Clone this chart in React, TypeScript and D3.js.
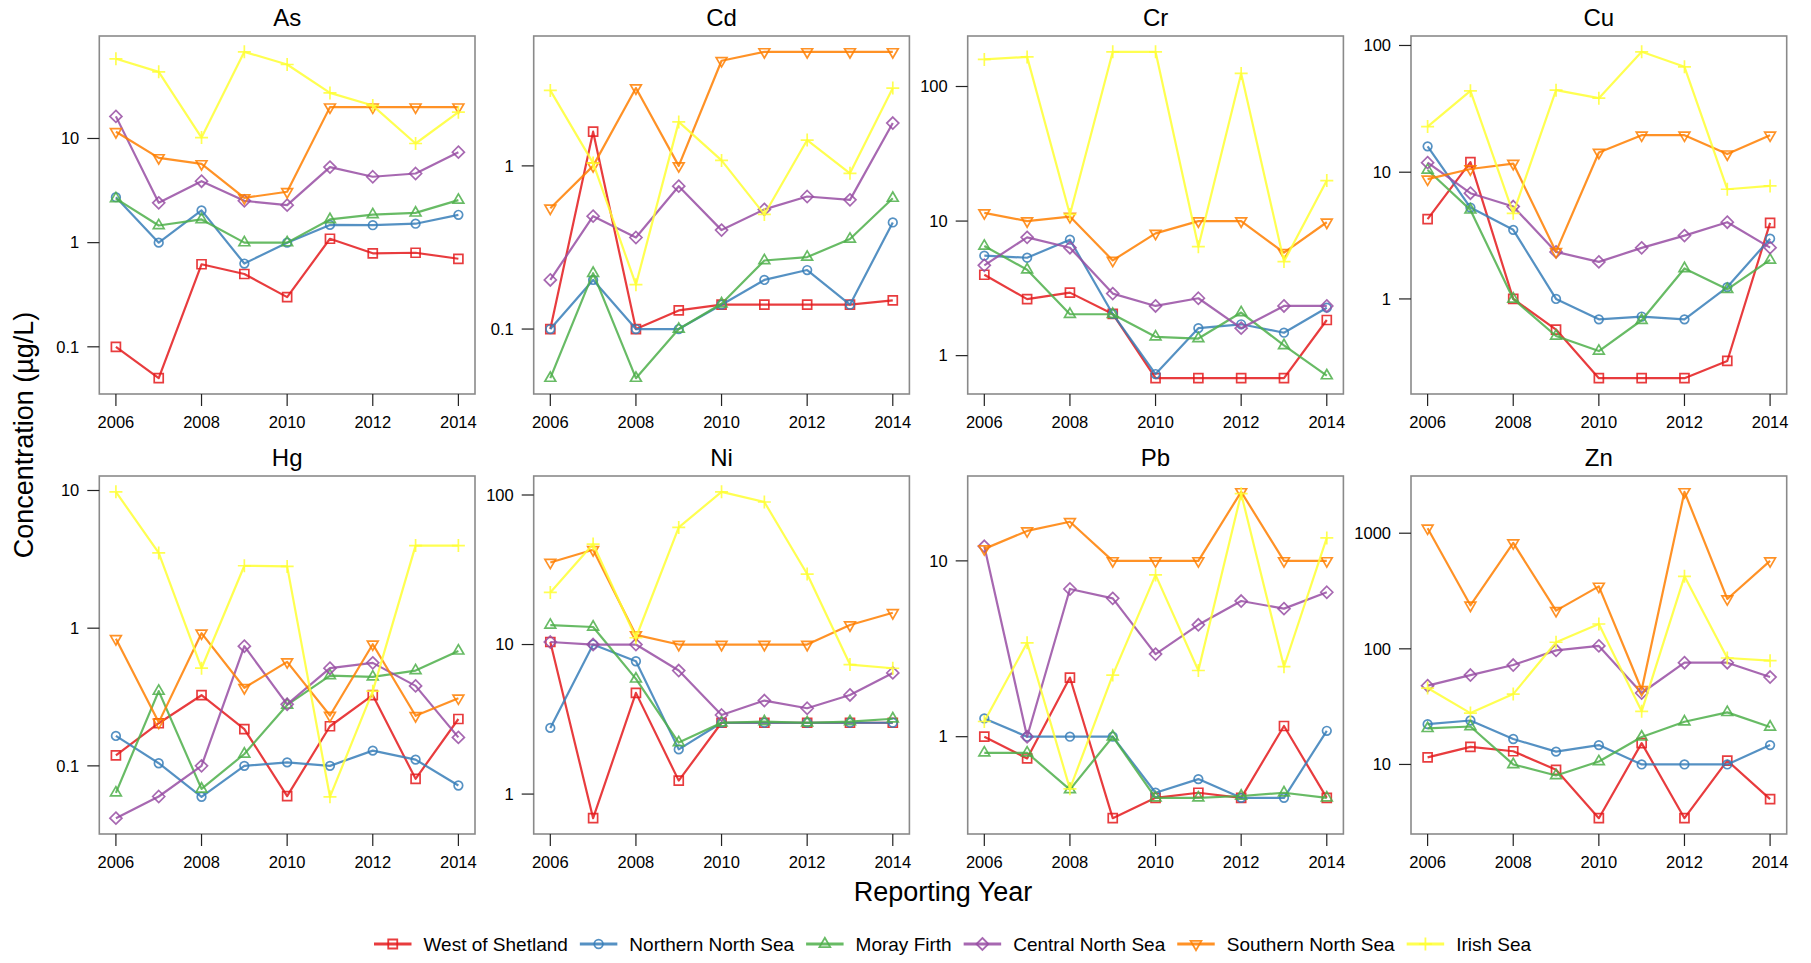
import React, { useMemo } from 'react';
import * as d3 from 'd3';

const years = [2006, 2007, 2008, 2009, 2010, 2011, 2012, 2013, 2014];
const xTickYears = [2006, 2008, 2010, 2012, 2014];
const regions = ['West of Shetland', 'Northern North Sea', 'Moray Firth', 'Central North Sea', 'Southern North Sea', 'Irish Sea'];
const regionColors = ['#E41A1C', '#377EB8', '#4DAF4A', '#984EA3', '#FF7F00', '#FFFF33'];
const regionShapes = ['square', 'circle', 'triangle', 'diamond', 'invtriangle', 'plus'];
const metals = ['As', 'Cd', 'Cr', 'Cu', 'Hg', 'Ni', 'Pb', 'Zn'];

// each array: one row per region (order as in `regions`), one value per year
const asValues = [
  [0.1, 0.05, 0.62, 0.5, 0.3, 1.09, 0.79, 0.8, 0.7],
  [2.73, 1.0, 2.04, 0.63, 1.0, 1.48, 1.47, 1.52, 1.85],
  [2.65, 1.46, 1.67, 1.0, 1.0, 1.67, 1.86, 1.93, 2.56],
  [16.3, 2.41, 3.89, 2.52, 2.29, 5.31, 4.29, 4.61, 7.39],
  [11.6, 6.52, 5.71, 2.69, 3.08, 20, 20, 20, 20],
  [58.2, 43.6, 10.2, 67.9, 51.3, 27.4, 20.7, 8.95, 17.9],
];
const cdValues = [
  [0.1, 1.62, 0.1, 0.13, 0.141, 0.141, 0.141, 0.141, 0.15],
  [0.1, 0.2, 0.1, 0.1, 0.141, 0.2, 0.23, 0.141, 0.45],
  [0.05, 0.22, 0.05, 0.1, 0.143, 0.263, 0.276, 0.356, 0.634],
  [0.2, 0.492, 0.364, 0.751, 0.404, 0.541, 0.649, 0.619, 1.83],
  [0.55, 1.0, 3.0, 1.0, 4.41, 5, 5, 5, 5],
  [2.9, 1.04, 0.187, 1.86, 1.08, 0.504, 1.44, 0.9, 3.0],
];
const crValues = [
  [3.99, 2.63, 2.94, 2.04, 0.68, 0.68, 0.68, 0.68, 1.84],
  [5.53, 5.34, 7.27, 2.04, 0.73, 1.6, 1.71, 1.48, 2.27],
  [6.52, 4.35, 2.03, 2.03, 1.38, 1.34, 2.09, 1.19, 0.71],
  [4.69, 7.57, 6.34, 2.89, 2.34, 2.67, 1.6, 2.34, 2.34],
  [11.5, 10, 10.8, 5.1, 8.1, 10, 10, 5.82, 9.8],
  [159, 166, 11.2, 181, 181, 6.45, 125, 5, 20],
];
const cuValues = [
  [4.26, 12.0, 1.0, 0.573, 0.237, 0.237, 0.237, 0.324, 3.98],
  [16.0, 5.26, 3.51, 1.0, 0.69, 0.726, 0.69, 1.24, 2.99],
  [10.4, 5.04, 1.0, 0.51, 0.388, 0.679, 1.74, 1.19, 2.03],
  [11.9, 6.83, 5.36, 2.35, 1.96, 2.53, 3.16, 4.03, 2.54],
  [8.81, 10.6, 11.7, 2.36, 14.3, 19.6, 19.6, 13.9, 19.6],
  [22.9, 43.9, 4.74, 44.4, 38.4, 89.1, 67.9, 7.34, 7.8],
];
const hgValues = [
  [0.119, 0.204, 0.326, 0.185, 0.0603, 0.194, 0.326, 0.0805, 0.219],
  [0.165, 0.1045, 0.0596, 0.1, 0.106, 0.1, 0.129, 0.111, 0.072],
  [0.0637, 0.349, 0.068, 0.122, 0.277, 0.453, 0.443, 0.492, 0.684],
  [0.0417, 0.0599, 0.1, 0.74, 0.28, 0.512, 0.56, 0.381, 0.161],
  [0.838, 0.207, 0.92, 0.369, 0.569, 0.232, 0.765, 0.231, 0.31],
  [9.78, 3.52, 0.512, 2.84, 2.81, 0.0596, 0.349, 3.98, 3.98],
];
const niValues = [
  [10.4, 0.69, 4.75, 1.23, 3, 3, 3, 3, 3],
  [2.77, 10, 7.73, 1.99, 3, 3, 3, 3, 3],
  [13.5, 13.1, 5.89, 2.21, 3, 3.05, 3, 3.05, 3.19],
  [10.4, 10, 10, 6.7, 3.38, 4.22, 3.75, 4.6, 6.46],
  [35.4, 43, 11.6, 10, 10, 10, 10, 13.5, 16.3],
  [22.3, 47, 11.1, 60.7, 105, 89.8, 29.6, 7.35, 6.94],
];
const pbValues = [
  [1.0, 0.752, 2.17, 0.344, 0.449, 0.48, 0.449, 1.15, 0.449],
  [1.27, 1.0, 1.0, 1.0, 0.48, 0.574, 0.449, 0.449, 1.08],
  [0.81, 0.81, 0.5, 1.0, 0.449, 0.449, 0.46, 0.48, 0.449],
  [12.1, 1.0, 6.92, 6.12, 2.95, 4.33, 5.91, 5.35, 6.63],
  [11.7, 14.8, 16.7, 10, 10, 10, 24.7, 10, 10],
  [1.22, 3.42, 0.505, 2.24, 8.32, 2.38, 24.1, 2.5, 13.5],
];
const znValues = [
  [11.5, 14.2, 13.0, 8.99, 3.43, 15.3, 3.43, 10.8, 5.01],
  [22.3, 24.0, 16.6, 12.9, 14.7, 10, 10, 10, 14.7],
  [20.5, 21.3, 10, 8.03, 10.6, 17.3, 23.4, 28.2, 21.1],
  [48, 59.3, 72.4, 97, 106, 41.5, 75.9, 75.9, 57],
  [1105, 238, 824, 214, 347, 44.3, 2280, 270, 576],
  [45.8, 27.8, 40.6, 114, 164, 28.8, 424, 83.3, 79],
];
const metalValues = [asValues, cdValues, crValues, cuValues, hgValues, niValues, pbValues, znValues];

// layout
const W = 1811;
const H = 963;
const colLefts = [99.3, 533.7, 967.7, 1411];
const rowTops = [36, 476];
const panelW = 375.7;
const panelH = 358;
const PAD = 0.0485;
const FONT = "'Liberation Sans', Arial, Helvetica, sans-serif";
const tickLen = 12;

function markerPath(shape: string): string {
  switch (shape) {
    case 'square':
      return 'M-4.5,-4.5H4.5V4.5H-4.5Z';
    case 'circle':
      return 'M4.3,0A4.3,4.3 0 1,1 -4.3,0A4.3,4.3 0 1,1 4.3,0Z';
    case 'triangle':
      return 'M0,-6.2L5.4,3.1L-5.4,3.1Z';
    case 'invtriangle':
      return 'M0,6.2L5.4,-3.1L-5.4,-3.1Z';
    case 'diamond':
      return 'M0,-6L6,0L0,6L-6,0Z';
    case 'plus':
    default:
      return 'M-6.5,0H6.5M0,-6.5V6.5';
  }
}

function fmtTick(v: number): string {
  return v >= 1 ? d3.format('d')(v) : String(+v.toPrecision(1));
}

function Panel({ metal, values, left, top }: { metal: string; values: number[][]; left: number; top: number }) {
  const all = values.flat();
  const lmin = Math.log10(d3.min(all) as number);
  const lmax = Math.log10(d3.max(all) as number);
  const lr = lmax - lmin;
  const y = d3.scaleLog().domain([10 ** (lmin - PAD * lr), 10 ** (lmax + PAD * lr)]).range([top + panelH, top]);
  const xr = years[years.length - 1] - years[0];
  const x = d3
    .scaleLinear()
    .domain([years[0] - PAD * xr, years[years.length - 1] + PAD * xr])
    .range([left, left + panelW]);
  const [d0, d1] = y.domain();
  const yTicks: number[] = [];
  for (let e = Math.ceil(Math.log10(d0) - 1e-9); e <= Math.floor(Math.log10(d1) + 1e-9); e++) yTicks.push(10 ** e);
  const line = d3
    .line<number>()
    .x((_, i) => x(years[i]))
    .y((v) => y(v));
  const bottom = top + panelH;
  return (
    <g>
      <text x={left + panelW / 2} y={top - 10} textAnchor="middle" fontSize={24} fontFamily={FONT} fill="#000">
        {metal}
      </text>
      {values.map((row, ri) => (
        <g key={ri} stroke={regionColors[ri]} strokeOpacity={0.85} fill="none">
          <path d={line(row) || ''} strokeWidth={2.2} strokeLinejoin="round" />
          {row.map((v, i) => (
            <path
              key={i}
              d={markerPath(regionShapes[ri])}
              transform={`translate(${x(years[i])},${y(v)})`}
              strokeWidth={1.7}
            />
          ))}
        </g>
      ))}
      <rect x={left} y={top} width={panelW} height={panelH} fill="none" stroke="#8a8a8a" strokeWidth={1.6} />
      {xTickYears.map((yr) => (
        <g key={yr}>
          <line x1={x(yr)} x2={x(yr)} y1={bottom} y2={bottom + tickLen} stroke="#222" strokeWidth={1.2} />
          <text x={x(yr)} y={bottom + 34} textAnchor="middle" fontSize={16.5} fontFamily={FONT} fill="#000">
            {yr}
          </text>
        </g>
      ))}
      {yTicks.map((t) => (
        <g key={t}>
          <line x1={left - tickLen} x2={left} y1={y(t)} y2={y(t)} stroke="#222" strokeWidth={1.2} />
          <text
            x={left - 20}
            y={y(t)}
            dy="0.35em"
            textAnchor="end"
            fontSize={16.5}
            fontFamily={FONT}
            fill="#000"
          >
            {fmtTick(t)}
          </text>
        </g>
      ))}
    </g>
  );
}

function measure(text: string, font: string): number {
  const c = document.createElement('canvas');
  const ctx = c.getContext('2d');
  if (!ctx) return text.length * 9;
  ctx.font = font;
  return ctx.measureText(text).width;
}

export default function App() {
  const legendFont = 19;
  const legendItems = useMemo(() => {
    let cx = 374;
    return regions.map((r, i) => {
      const lineX0 = cx;
      const lineX1 = cx + 37.5;
      const textX = lineX1 + 12;
      const tw = measure(r, `${legendFont}px 'Liberation Sans'`);
      cx = textX + tw + 12;
      return { r, i, lineX0, lineX1, textX };
    });
  }, []);
  const legendY = 944;

  return (
    <svg
      width={W}
      height={H}
      viewBox={`0 0 ${W} ${H}`}
      style={{ position: 'absolute', left: 0, top: 0, background: '#fff' }}
    >
      <rect x={0} y={0} width={W} height={H} fill="#fff" />
      {metals.map((m, k) => (
        <Panel
          key={m}
          metal={m}
          values={metalValues[k]}
          left={colLefts[k % 4]}
          top={rowTops[Math.floor(k / 4)]}
        />
      ))}
      <text
        transform={`translate(33,435) rotate(-90)`}
        textAnchor="middle"
        fontSize={27}
        fontFamily={FONT}
        fill="#000"
      >
        Concentration (µg/L)
      </text>
      <text x={943} y={901} textAnchor="middle" fontSize={27} fontFamily={FONT} fill="#000">
        Reporting Year
      </text>
      {legendItems.map(({ r, i, lineX0, lineX1, textX }) => (
        <g key={r}>
          <g stroke={regionColors[i]} strokeOpacity={0.85} fill="none">
            <line x1={lineX0} x2={lineX1} y1={legendY} y2={legendY} strokeWidth={3} />
            <path
              d={markerPath(regionShapes[i])}
              transform={`translate(${(lineX0 + lineX1) / 2},${legendY})`}
              strokeWidth={1.8}
            />
          </g>
          <text x={textX} y={legendY} dy="0.35em" fontSize={legendFont} fontFamily={FONT} fill="#000">
            {r}
          </text>
        </g>
      ))}
    </svg>
  );
}
